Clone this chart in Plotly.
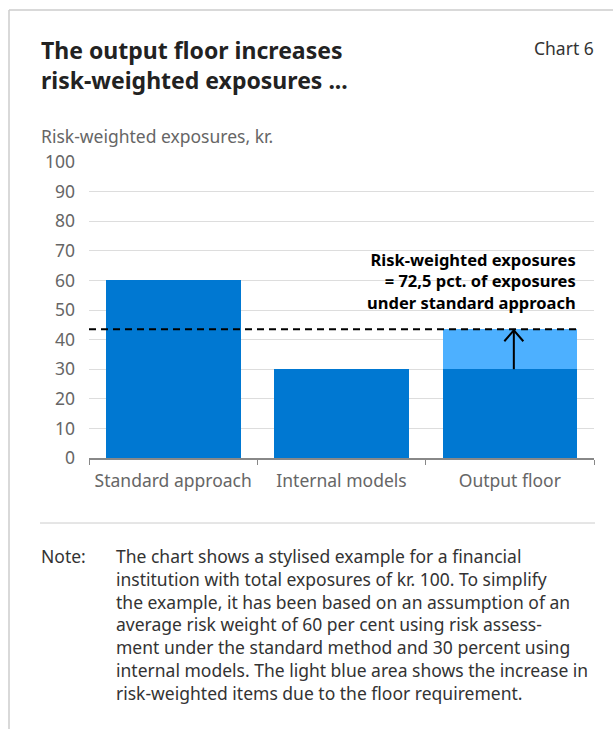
import plotly.graph_objects as go

# Chart data
categories = ["Standard approach", "Internal models", "Output floor"]
base_rwa = [60, 30, 30]            # risk-weighted exposures before the floor
floor_share = 72.5                 # floor, pct. of standard-approach exposures
floor_level = base_rwa[0] * floor_share / 100
floor_add = [0, 0, floor_level - base_rwa[2]]
y_ticks = list(range(0, 101, 10))

note_lines = [
    "The chart shows a stylised example for a financial",
    "institution with total exposures of kr. 100. To simplify",
    "the example, it has been based on an assumption of an",
    "average risk weight of 60 per cent using risk assess-",
    "ment under the standard method and 30 percent using",
    "internal models. The light blue area shows the increase in",
    "risk-weighted items due to the floor requirement.",
]

W, H = 613, 729
L, R, T, B = 89, 594, 162, 458
FONT = "Noto Sans"
TXT = 17.5


def px(x):
    return (x - L) / (R - L)


def py(y):
    return (B - y) / (B - T)


fig = go.Figure()
fig.add_bar(x=categories, y=base_rwa, marker_color="#0078D2",
            marker_line_width=0, showlegend=False)
fig.add_bar(x=categories, y=floor_add, marker_color="#4DB0FF",
            marker_line_width=0, showlegend=False)

# floor level line
fig.add_shape(type="line", xref="paper", yref="y", x0=0, x1=px(577),
              y0=floor_level, y1=floor_level,
              line=dict(color="black", width=2, dash="7px,5px"))

# arrow from internal-model level up to the floor: shaft + open chevron head
fig.add_shape(type="line", xref="x", yref="y", xsizemode="pixel",
              xanchor=categories[2], x0=4, x1=4,
              y0=base_rwa[2], y1=floor_level,
              line=dict(color="black", width=2))
fig.add_shape(type="path", xref="x", yref="y",
              xsizemode="pixel", xanchor=categories[2],
              ysizemode="pixel", yanchor=floor_level,
              path="M-5.5,-12 L4,-1 L13.5,-12",
              line=dict(color="black", width=2))

fig.add_annotation(xref="paper", yref="paper", x=px(578), y=py(281),
                   xanchor="right", yanchor="middle", align="right",
                   showarrow=False,
                   text=("<b>Risk-weighted exposures</b><br>"
                         f"<b>= {str(floor_share).replace('.', ',')} pct. of exposures</b><br>"
                         "<b>under standard approach</b>"),
                   font=dict(family=FONT, size=16.5, color="black"))

# titles
fig.add_annotation(xref="paper", yref="paper", x=px(39), y=py(65),
                   xanchor="left", yanchor="middle", align="left", showarrow=False,
                   text="<b>The output floor increases</b><br><b>risk-weighted exposures ...</b>",
                   font=dict(family=FONT, size=23, color="#222222"))
fig.add_annotation(xref="paper", yref="paper", x=px(596), y=py(48),
                   xanchor="right", yanchor="middle", showarrow=False,
                   text="Chart 6", font=dict(family=FONT, size=TXT, color="#333333"))
fig.add_annotation(xref="paper", yref="paper", x=px(39), y=py(136),
                   xanchor="left", yanchor="middle", showarrow=False,
                   text="Risk-weighted exposures, kr.",
                   font=dict(family=FONT, size=TXT, color="#666666"))

# note
fig.add_annotation(xref="paper", yref="paper", x=px(39), y=py(556),
                   xanchor="left", yanchor="middle", showarrow=False,
                   text="Note:", font=dict(family=FONT, size=TXT, color="#333333"))
for i, line in enumerate(note_lines):
    fig.add_annotation(xref="paper", yref="paper", x=px(114), y=py(556 + i * 22.8),
                       xanchor="left", yanchor="middle", showarrow=False,
                       text=line, font=dict(family=FONT, size=TXT, color="#333333"))

# card frame and separator
fig.add_shape(type="line", xref="paper", yref="paper", x0=px(9), x1=px(613),
              y0=py(10), y1=py(10), line=dict(color="#cccccc", width=1.5))
fig.add_shape(type="line", xref="paper", yref="paper", x0=px(9), x1=px(9),
              y0=py(10), y1=py(729), line=dict(color="#cccccc", width=1.5))
fig.add_shape(type="line", xref="paper", yref="paper", x0=px(40), x1=px(595),
              y0=py(523), y1=py(523), line=dict(color="#cccccc", width=1))

fig.update_layout(
    width=W, height=H, barmode="stack", bargap=0.2,
    margin=dict(l=L, r=W - R, t=T, b=H - B),
    paper_bgcolor="white", plot_bgcolor="white",
    font=dict(family=FONT, size=TXT, color="#666666"),
)
fig.update_xaxes(showline=True, linecolor="#888888", linewidth=1.5,
                 ticks="outside", tickson="boundaries", ticklen=5,
                 tickcolor="#888888", ticklabelstandoff=6,
                 tickfont=dict(size=TXT, color="#666666"))
fig.update_yaxes(range=[0, 100], tickvals=y_ticks, showgrid=True,
                 gridcolor="#dddddd", gridwidth=1, zeroline=False,
                 ticks="", ticklabelstandoff=13,
                 tickfont=dict(size=TXT, color="#666666"))

fig.write_html("out.html")
